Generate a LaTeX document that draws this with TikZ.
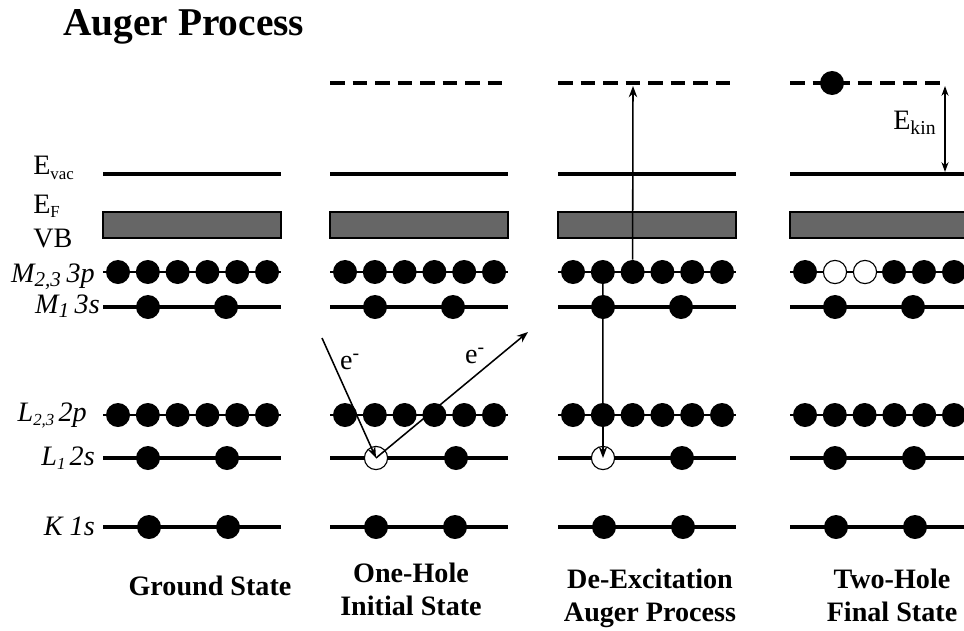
\documentclass[tikz,border=0pt]{standalone}
\usepackage{fontspec}
\setmainfont{Liberation Serif}
\usetikzlibrary{arrows.meta}

% lowered subscript for the level labels
\newcommand{\lsub}[2][12]{\raisebox{-3.5pt}{\fontsize{#1}{#1}\selectfont #2}}

\begin{document}
\begin{tikzpicture}[x=0.025cm, y=-0.025cm,
  elec/.style={circle, fill=black, minimum size=0.6cm, inner sep=0pt},
  hole/.style={circle, draw=black, line width=0.8pt, fill=white, minimum size=0.58cm, inner sep=0pt},
  level/.style={line width=2.8pt},
  plevel/.style={line width=2pt},
  vacdash/.style={line width=3.5pt, dash pattern=on 10.4pt off 5.6pt},
  vband/.style={draw=black, line width=1pt, fill=black!60},
  shell/.style={font=\fontsize{20}{20}\selectfont\itshape, inner sep=0pt},
  elab/.style={font=\fontsize{20}{20}\selectfont, inner sep=0pt},
  state/.style={font=\fontsize{20}{23.5}\selectfont\bfseries, align=center, inner sep=0pt},
  earrow/.style={line width=1.1pt, -{Stealth[length=8pt,width=6pt]}}]

\clip (0,0) rectangle (964,630);

% Title
\node[font=\fontsize{28}{28}\selectfont\bfseries, anchor=base west, inner sep=0pt] (title) at (63,36) {Auger Process};

% Level labels
\node[elab, anchor=base west] (lvac) at (33,175) {E\lsub{vac}};
\node[elab, anchor=base west] (lfermi) at (33,213) {E\lsub{F}};
\node[elab, anchor=base west] (lvb) at (33,247) {VB};
\node[shell, anchor=base east] (lm23) at (95,282) {M\lsub[15]{2,3}\hspace{4pt}3p};
\node[shell, anchor=base east] (lm1) at (100,313) {M\lsub[15]{1}\hspace{4pt}3s};
\node[shell, anchor=base east] (ll23) at (87,421) {L\lsub{2,3}\hspace{3pt}2p};
\node[shell, anchor=base east] (ll1) at (95,465) {L\lsub{1}\hspace{3pt}2s};
\node[shell, anchor=base east] (lk) at (95,535) {K 1s};

% Levels and valence band of the four states
\foreach \x in {103,330,558,790} {
  \draw[level] (\x,174) -- ++(178,0);
  \draw[vband] (\x,212) rectangle ++(178,26);
  \draw[plevel] (\x,272) -- ++(178,0);
  \draw[level] (\x,307) -- ++(178,0);
  \draw[plevel] (\x,415) -- ++(178,0);
  \draw[level] (\x,458) -- ++(178,0);
  \draw[level] (\x,527) -- ++(178,0);
}

% Vacuum continuum (dashed)
\draw[vacdash] (330,83) -- (509,83);
\draw[vacdash] (558,83) -- (736,83);
\draw[vacdash] (790,83) -- (947,83);

% p shells
\foreach \c/\x in {a/103,b/330,c/558} {
  \foreach \i in {1,...,6} {
    \node[elec] (\c-m23-\i) at ({\x+15+29.8*(\i-1)},272) {};
  }
}
\foreach \c/\x in {a/103,b/330,c/558,d/790} {
  \foreach \i in {1,...,6} {
    \node[elec] (\c-l23-\i) at ({\x+15+29.8*(\i-1)},415) {};
  }
}
\node[elec] (d-m23-1) at (805,272) {};
\node[hole] (d-m23-2) at (835,272) {};
\node[hole] (d-m23-3) at (865,272) {};
\node[elec] (d-m23-4) at (894,272) {};
\node[elec] (d-m23-5) at (924,272) {};
\node[elec] (d-m23-6) at (954,272) {};

% s shells
\foreach \c/\x in {a/103,b/330,c/558,d/790} {
  \node[elec] (\c-m1-1) at (\x+45,307) {};
  \node[elec] (\c-m1-2) at (\x+123,307) {};
  \node[elec] (\c-k-1) at (\x+46,527) {};
  \node[elec] (\c-k-2) at (\x+125,527) {};
}
\node[elec] (a-l1-1) at (148,458) {};
\node[elec] (a-l1-2) at (227,458) {};
\node[hole] (b-l1-1) at (376,458) {};
\node[elec] (b-l1-2) at (456,458) {};
\node[hole] (c-l1-1) at (603,458) {};
\node[elec] (c-l1-2) at (682,458) {};
\node[elec] (d-l1-1) at (835,458) {};
\node[elec] (d-l1-2) at (914,458) {};

% Ionisation by incoming electron
\coordinate (ein) at (322,338);
\coordinate (eout) at (528,332);
\draw[earrow] (ein) -- (b-l1-1.center);
\draw[earrow] (b-l1-1.center) -- (eout);
\node[elab] (ein-lab) at (350,362) {e\textsuperscript{-}};
\node[elab] (eout-lab) at (475,356) {e\textsuperscript{-}};

% De-excitation and Auger electron
\coordinate (c-vac) at (633,86);
\draw[earrow] (c-m23-3.north) -- (c-vac);
\draw[earrow] (c-m23-2.center) -- (c-l1-1.center);

% Emitted electron
\node[elec] (d-out) at (832,83) {};
\coordinate (d-top) at (945,86);
\coordinate (d-bot) at (945,172);
\draw[line width=1.1pt, {Stealth[length=7pt,width=5pt]}-{Stealth[length=7pt,width=5pt]}] (d-top) -- (d-bot);
\node[elab, anchor=base west] (ekin) at (893,130) {E\lsub[14]{kin}};

% State captions
\node[state, anchor=base] (cap-a) at (210,595) {Ground State};
\node[state, anchor=north] (cap-b) at (411,563) {One-Hole\\Initial State};
\node[state, anchor=north] (cap-c) at (650,569) {De-Excitation\\Auger Process};
\node[state, anchor=north] (cap-d) at (892,569) {Two-Hole\\Final State};
\end{tikzpicture}
\end{document}
